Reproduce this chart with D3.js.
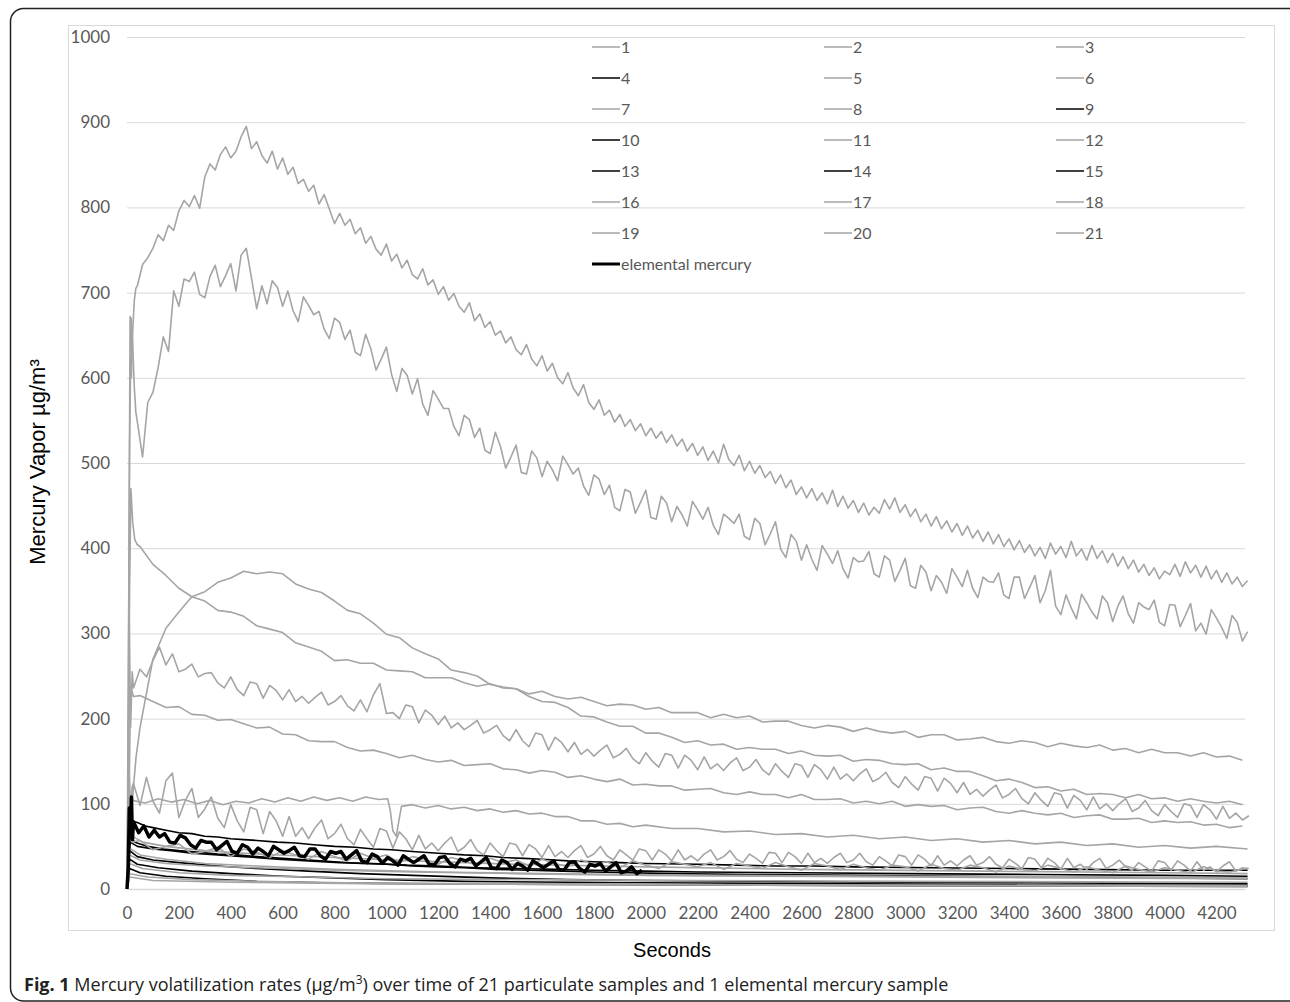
<!DOCTYPE html>
<html>
<head>
<meta charset="utf-8">
<style>
  body { margin: 0; background: #fff; }
  svg text { font-family: Lato, "Open Sans", sans-serif; }
</style>
</head>
<body>
<svg id="chart" width="1290" height="1002"></svg>
<script src="https://d3js.org/d3.v7.min.js"></script>
<script>
// axis ticks
var xTicks = [0, 200, 400, 600, 800, 1000, 1200, 1400, 1600, 1800, 2000, 2200, 2400, 2600, 2800, 3000, 3200, 3400, 3600, 3800, 4000, 4200];
var yTicks = [0, 100, 200, 300, 400, 500, 600, 700, 800, 900, 1000];

var legendNames = ["1","2","3","4","5","6","7","8","9","10","11","12","13","14","15","16","17","18","19","20","21","elemental mercury"];
var blackNames = ["4","9","10","13","14","15"];

// ---- series (seconds, µg/m3) ----
var s1 = [[0,0],[8,75],[20,62],[60,55],[150,50],[300,45],[500,41],[800,37],[1100,33],[1500,29],[2000,26],[2600,23],[3300,21],[4000,19],[4320,18]];

// sample 2 (highest curve): start points, then every 20 s from 40 s
var s2Head = [[0,0],[4,120],[8,420],[12,672],[17,600],[22,655],[28,690],[34,705]];
var s2Vals = [
  708,733,741,752,768, 761,779,773,796,808, 801,814,799,836,851, 844,862,871,858,866,
  883,895,869,877,861, 852,866,845,858,839, 847,828,833,819,826, 804,815,798,781,793,
  779,786,769,776,758, 766,751,744,757,737, 745,729,738,721,716, 728,709,715,698,707,
  691,699,684,677,688, 667,675,659,666,650, 655,641,648,633,627, 639,622,614,626,608,
  617,600,593,606,588, 579,592,571,563,574, 556,562,548,557,543, 551,538,546,532,541,
  529,537,524,533,520, 528,514,523,509,519, 503,514,500,522,504, 497,509,491,502,488,
  497,483,490,476,486, 471,480,463,472,459, 470,456,465,452,468, 449,461,447,456,442,
  453,439,448,441,457, 446,459,442,451,437, 446,431,440,426,437, 423,432,419,429,415,
  426,412,421,408,419, 405,416,402,411,398, 409,395,404,391,401, 388,406,393,402,389,
  408,391,399,386,403, 388,397,383,394,379, 390,376,386,372,381, 368,377,364,373,369,
  381,367,384,371,380, 366,379,364,374,360, 371,358,366,355,362];

// sample 3 (second curve): every 20 s from 40 s
var s3Head = [[0,0],[5,240],[10,520],[16,670],[22,640],[28,590],[34,560]];
var s3Vals = [
  548,507,571,583,612, 648,631,702,684,716, 713,724,698,694,719, 732,707,720,734,702,
  744,752,717,681,708, 687,714,706,684,702, 679,666,695,685,674, 678,657,646,670,665,
  645,656,630,626,651, 634,609,622,636,604, 584,611,603,581,599, 569,556,585,575,564,
  564,543,532,556,551, 530,541,515,511,536, 519,494,507,521,489, 487,514,506,484,502,
  492,479,508,498,487, 494,473,462,486,481, 463,474,448,444,469, 466,441,454,468,436,
  434,461,453,431,449, 439,426,455,445,434, 448,427,416,440,435, 429,440,414,410,435,
  429,404,417,431,399, 389,416,408,386,404, 387,374,403,393,382, 397,376,365,389,384,
  385,396,370,366,391, 386,361,374,388,356, 353,380,372,350,368, 360,347,376,366,355,
  374,353,342,366,361, 360,371,345,341,366, 366,341,354,368,336, 350,374,332,322,345,
  330,317,346,336,325, 317,344,336,314,332, 344,323,312,336,331, 328,339,313,309,334,
  333,308,321,335,303, 312,299,328,318,307, 294,321,313,291,302];

var s4 = [[0,0],[8,90],[15,80],[40,78],[70,74],[100,72],[150,69],[200,66],[250,65],[300,62],[350,61],[400,59],[450,58],[500,57],[580,55],[650,54],[720,52],[800,50],[880,49],[950,47],[1020,46],[1100,44],[1200,42],[1300,40],[1380,39],[1450,37],[1530,36],[1600,35],[1700,33],[1800,32],[1900,31],[2000,30],[2200,29],[2350,28],[2500,27],[2650,27],[2800,26],[3100,25],[3400,24],[3700,23],[4000,22],[4320,22]];

// sample 5: every 50 s from 50 s
var s5Head = [[0,0],[5,150],[10,350],[15,470],[22,430],[30,410],[40,404]];
var s5Vals = [
  402,381,368,353,343,338,327,325,320,309,
  305,301,289,284,279,268,269,265,265,257,
  256,255,248,248,248,242,238,241,236,235,
  229,232,226,223,225,220,215,217,216,211,
  213,207,207,207,201,205,201,203,196,197,
  197,192,189,192,190,185,189,185,183,185,
  178,181,181,175,176,178,173,171,174,172,
  167,171,168,166,169,163,165,160,164,160,
  160,156,160,155,156,151];

// sample 6 (hump): every 50 s from 50 s
var s6Head = [[0,0],[8,35],[16,80],[25,120],[35,155]];
var s6Vals = [
  189,270,306,325,343,349,360,365,373,370,
  372,370,358,352,348,338,327,323,312,299,
  295,283,276,270,257,254,250,240,237,235,
  226,220,219,213,203,202,196,191,191,183,
  183,178,172,174,169,170,164,166,164,164,
  159,162,157,156,157,150,152,151,147,146,
  147,140,142,138,138,133,127,129,125,119,
  120,115,117,111,112,111,107,111,106,107,
  103,106,103,101,103,99];

// sample 7 (noisy, ~250 at start): every 25 s from 25 s
var s7Head = [[0,0],[5,110],[9,310],[14,190],[20,255]];
var s7Vals = [
  236,258,249,268, 284,263,276,255, 258,264,249,253, 254,242,236,249, 234,227,243,241,
  224,239,233,222, 234,220,226,218, 225,231,216,220, 227,215,209,222, 208,228,241,206,
  207,200,216,214, 195,210,204,193, 203,189,195,187, 192,198,183,187, 192,180,174,187,
  174,167,183,181, 163,178,172,161, 172,158,164,156, 163,169,154,158, 165,153,147,160,
  150,143,159,157, 142,157,151,140, 155,141,147,139, 148,154,139,143, 152,140,134,147,
  138,131,147,145, 131,146,140,129, 143,129,135,127, 135,141,126,130, 137,125,119,132,
  123,116,132,130, 115,130,124,113, 125,111,117,109, 116,122,107,111, 118,106,100,113,
  104,97,113,111, 95,110,104,93, 108,94,100,92, 100,106,91,95, 104,92,86,99,
  91,84,100,98, 84,99,93,82, 97,83,89,81, 86];

// sample 8: every 50 s from 50 s
var s8Head = [[0,0],[8,110],[14,238],[25,226]];
var s8Vals = [
  227,220,213,214,205,204,198,199,194,189,
  190,182,181,174,173,173,166,162,163,159,
  154,157,152,149,151,145,146,147,141,140,
  136,139,137,131,133,129,126,129,122,123,
  121,121,116,117,118,113,111,114,111,111,
  107,111,105,105,106,101,103,100,103,97,
  99,97,98,93,95,96,91,89,92,89,
  87,89,84,86,87,82,82,83,78,80,
  78,79,75,76,72,74];

var s9 = [[0,0],[10,62],[30,55],[80,50],[140,47],[200,45],[280,43],[350,41],[420,40],[500,38],[600,36],[700,34],[800,32],[900,30],[1000,29],[1100,27],[1200,26],[1300,25],[1420,23],[1550,22],[1680,21],[1800,20],[2100,18],[2400,17],[2800,16],[3200,15],[3600,14],[4000,13],[4320,12]];
var s10 = [[0,0],[10,45],[40,38],[100,34],[200,31],[350,27],[500,24],[700,21],[900,18],[1100,16],[1400,13],[1700,11],[2000,10],[2500,9],[3000,8],[3600,7],[4320,6]];

// sample 11: flat near 100, notch at ~1030 s
var s11 = [[0,0],[10,90],[20,104],[70,101],[120,106],[170,102],[220,105],[270,100],[320,104],[370,99],[420,103],[470,101],[520,106],[570,102],[620,107],[670,103],[720,108],[770,104],[820,107],[870,103],[920,108],[970,105],[1005,106],[1015,92],[1025,68],[1038,62],[1048,80],[1058,97],[1100,99],[1150,95],[1200,98],[1250,94],[1300,96],[1350,92],[1400,94],[1450,90],[1500,92],[1550,88],[1600,89],[1650,85],[1700,85],[1750,80],[1800,80],[1850,76],[1900,77],[1950,73],[2000,75],[2100,71],[2200,71],[2300,67],[2400,68],[2500,64],[2600,65],[2700,61],[2800,63],[2900,59],[3000,61],[3100,57],[3200,59],[3300,55],[3400,57],[3500,53],[3600,55],[3700,51],[3800,53],[3900,49],[4000,51],[4100,48],[4200,50],[4320,47]];

// sample 12 (very noisy, ~115 at start): every 25 s from 25 s
var s12Head = [[0,0],[5,70],[9,135],[14,90],[20,120]];
var s12Vals = [
  124,98,131,103, 89,127,136,84, 104,118,84,94, 108,83,72,99, 80,67,96,93,
  65,91,80,62, 85,62,72,59, 72,81,59,65, 76,59,52,70, 59,49,71,68,
  48,67,59,46, 63,47,54,45, 54,61,44,49, 58,45,40,54, 45,38,54,52,
  39,52,47,37, 51,38,44,37, 45,51,37,41, 50,39,34,46, 40,34,47,45,
  34,46,41,33, 46,34,39,33, 41,46,34,38, 45,35,31,41, 36,30,43,42,
  31,43,38,30, 42,31,36,30, 37,42,31,34, 42,32,28,38, 33,27,40,38,
  28,40,35,27, 39,28,33,27, 34,39,28,31, 38,29,25,35, 30,24,37,35,
  25,36,31,23, 36,25,29,23, 31,36,24,28, 34,26,22,31, 26,21,33,31,
  22,33,28,21, 32,22,26,20, 27,32,21,25, 24];

var s13 = [[0,0],[10,35],[40,29],[120,25],[250,21],[400,18],[600,15],[800,13],[1000,11],[1300,9],[1700,8],[2200,7],[2800,6],[3500,5],[4320,4]];
var s14 = [[0,0],[10,24],[50,19],[150,15],[300,12],[500,9],[800,7],[1200,6],[2000,5],[3000,4],[4320,3]];
var s15 = [[0,0],[12,55],[40,50],[100,47],[170,45],[250,42],[350,40],[450,38],[580,35],[700,33],[820,31],[950,30],[1080,28],[1200,27],[1350,25],[1500,24],[1650,23],[1800,22],[2000,21],[2200,20],[2600,19],[3000,18],[3500,17],[4000,16],[4320,15]];

// sample 16 (noisy, low): every 50 s from 50 s
var s16Head = [[0,0],[8,68],[20,55]];
var s16Vals = [
  57,46,50,53,41,44,49,38,47,43,
  37,45,40,35,44,38,33,42,36,40,
  31,38,35,29,37,33,28,36,31,34,
  27,35,30,26,34,29,32,25,33,28,
  24,32,29,26,31,23,30,27,24,31,
  26,22,30,27,23,29,25,22,28,26,
  21,29,24,22,28,25,20,27,23,21,
  28,24,20,26,22,19,27,23,20,25,
  22,19,26,21,20,23];

var s17 = [[0,0],[10,40],[50,34],[150,30],[300,27],[500,25],[800,22],[1100,20],[1500,18],[2000,16],[2500,15],[3000,14],[3600,13],[4320,12]];
var s18 = [[0,0],[10,30],[60,24],[200,19],[400,16],[700,14],[1000,12],[1500,11],[2200,10],[3000,9],[4320,8]];
var s19 = [[0,0],[10,18],[80,14],[250,11],[500,9],[900,7],[1500,6],[2500,5],[4320,4]];
var s20 = [[0,0],[10,48],[50,40],[150,35],[300,30],[500,27],[800,23],[1200,20],[1600,18],[2200,16],[3000,15],[3800,14],[4320,13]];
var s21 = [[0,0],[10,14],[100,10],[400,8],[1000,6],[2000,5],[3000,4],[4320,3]];

// elemental mercury: every 20 s from 25 s, ends near 2000 s
var hgHead = [[0,0],[5,25],[9,95],[13,65],[17,108],[21,58]];
var hgVals = [
  79,66,74,61,69, 61,65,55,54,63, 60,52,48,57,55, 55,46,51,56,44,
  42,52,49,41,48, 44,39,50,46,42, 45,49,39,38,47, 47,39,35,44,42,
  44,35,40,45,33, 31,41,38,30,37, 33,28,39,35,31, 35,39,29,28,37,
  38,30,26,35,33, 36,27,32,37,25, 24,34,31,23,30, 27,22,33,29,25,
  29,33,23,22,31, 32,24,20,29,27, 30,21,26,31,19, 21,26,18,22];

function seq(head, t0, dt, vals) {
  return head.concat(vals.map(function(v, i) { return [t0 + i * dt, v]; }));
}

var seriesData = {
  "1": s1, "2": seq(s2Head, 40, 20, s2Vals), "3": seq(s3Head, 40, 20, s3Vals),
  "4": s4, "5": seq(s5Head, 50, 50, s5Vals), "6": seq(s6Head, 50, 50, s6Vals),
  "7": seq(s7Head, 25, 25, s7Vals), "8": seq(s8Head, 50, 50, s8Vals),
  "9": s9, "10": s10, "11": s11, "12": seq(s12Head, 25, 25, s12Vals),
  "13": s13, "14": s14, "15": s15, "16": seq(s16Head, 50, 50, s16Vals),
  "17": s17, "18": s18, "19": s19, "20": s20, "21": s21,
  "elemental mercury": seq(hgHead, 25, 20, hgVals)
};

// ---- drawing ----
var svg = d3.select("#chart");
var gray = "#a5a5a5";

function colorOf(name) {
  if (name === "elemental mercury") return "#000";
  return blackNames.indexOf(name) >= 0 ? "#000" : gray;
}
function widthOf(name) {
  if (name === "elemental mercury") return 3.5;
  return 1.6;
}

// outer frame
svg.append("rect")
  .attr("x", 10.5).attr("y", 8.5)
  .attr("width", 1300).attr("height", 992.5)
  .attr("rx", 13)
  .attr("fill", "none").attr("stroke", "#222").attr("stroke-width", 1.5);

// chart area border
svg.append("rect")
  .attr("x", 68.5).attr("y", 25.5)
  .attr("width", 1206).attr("height", 905)
  .attr("fill", "none").attr("stroke", "#d9d9d9").attr("stroke-width", 1);

var x = d3.scaleLinear().domain([0, 4310]).range([127, 1245]);
var y = d3.scaleLinear().domain([0, 1000]).range([889, 37]);

// gridlines
svg.append("g")
  .attr("transform", "translate(127,0)")
  .call(d3.axisLeft(y).tickValues(yTicks).tickSize(-(1245 - 127)).tickFormat(""))
  .call(function(g) { g.select(".domain").remove(); })
  .selectAll("line")
  .attr("stroke", "#d9d9d9")
  .attr("stroke-width", function(d) { return d === 0 ? 1.6 : 1; });

// y labels
var yAxis = svg.append("g")
  .attr("transform", "translate(127,0)")
  .call(d3.axisLeft(y).tickValues(yTicks).tickFormat(d3.format("d")).tickSize(0).tickPadding(17));
yAxis.select(".domain").remove();
yAxis.selectAll("text")
  .attr("fill", "#595959")
  .style("font-size", "17px")
  .style("font-family", "Lato");

// x labels
var xAxis = svg.append("g")
  .attr("transform", "translate(0,889)")
  .call(d3.axisBottom(x).tickValues(xTicks).tickFormat(d3.format("d")).tickSize(0).tickPadding(18));
xAxis.select(".domain").remove();
xAxis.selectAll("text")
  .attr("fill", "#595959")
  .style("font-size", "17px")
  .style("font-family", "Lato");

// lines
var line = d3.line()
  .x(function(d) { return x(d[0]); })
  .y(function(d) { return y(d[1]); });

svg.append("g")
  .selectAll("path")
  .data(legendNames)
  .enter().append("path")
    .attr("d", function(d) { return line(seriesData[d]); })
    .attr("fill", "none")
    .attr("stroke", colorOf)
    .attr("stroke-width", widthOf)
    .attr("stroke-linejoin", "round");

// legend, three columns
var legendCols = [592, 824, 1056];
var legend = svg.append("g")
  .selectAll("g")
  .data(legendNames)
  .enter().append("g")
    .attr("transform", function(d, i) {
      return "translate(" + legendCols[i % 3] + "," + (47 + Math.floor(i / 3) * 31) + ")";
    });

legend.append("line")
  .attr("x1", 0).attr("x2", 28)
  .attr("stroke", colorOf)
  .attr("stroke-width", function(d) { return d === "elemental mercury" ? 3 : 1.5; });

legend.append("text")
  .attr("x", 29)
  .attr("dy", "0.35em")
  .attr("fill", "#595959")
  .style("font-size", "16px")
  .style("font-family", "Lato")
  .text(function(d) { return d; });

// axis titles
svg.append("text")
  .attr("transform", "translate(45,462) rotate(-90)")
  .attr("text-anchor", "middle")
  .attr("fill", "#000")
  .style("font-family", "Liberation Sans")
  .style("font-size", "22px")
  .text("Mercury Vapor µg/m³");

svg.append("text")
  .attr("x", 672).attr("y", 957)
  .attr("text-anchor", "middle")
  .attr("fill", "#000")
  .style("font-family", "Liberation Sans")
  .style("font-size", "20px")
  .text("Seconds");

// caption
var cap = svg.append("text")
  .attr("x", 24).attr("y", 991)
  .attr("fill", "#222")
  .style("font-family", "Open Sans")
  .style("font-size", "18px");
cap.append("tspan").style("font-weight", "bold").text("Fig. 1");
cap.append("tspan").text(" Mercury volatilization rates (µg/m");
cap.append("tspan").attr("dy", -7).style("font-size", "12px").text("3");
cap.append("tspan").attr("dy", 7).text(") over time of 21 particulate samples and 1 elemental mercury sample");
</script>
</body>
</html>
